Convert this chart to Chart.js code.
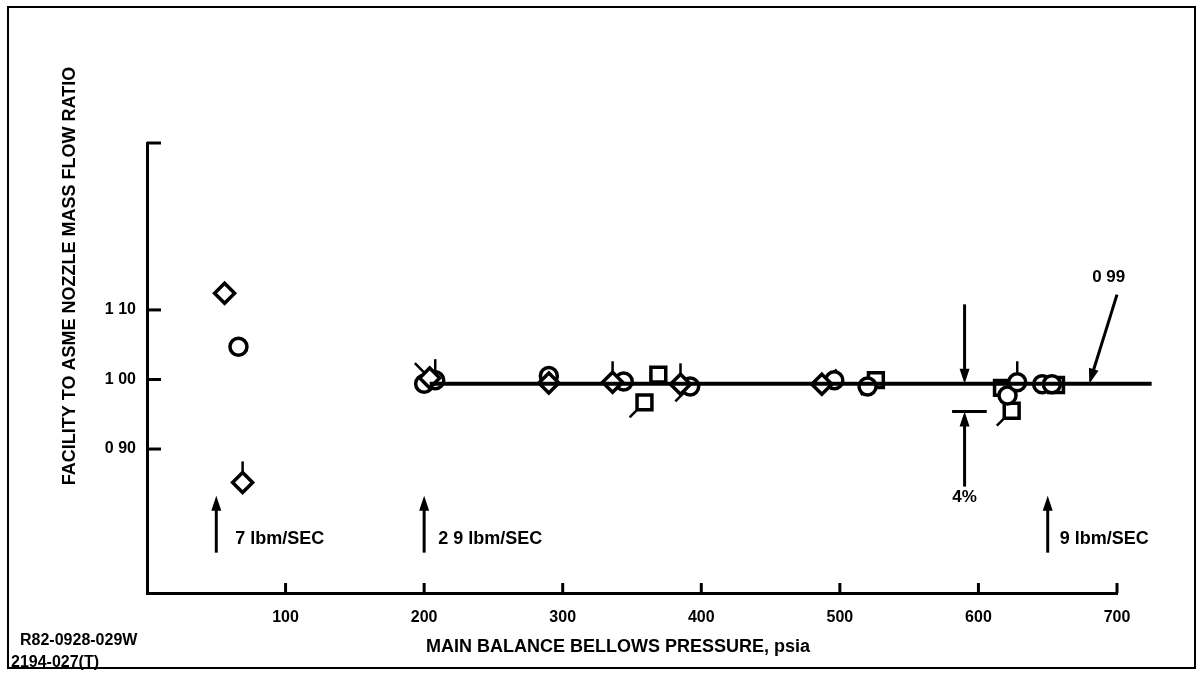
<!DOCTYPE html>
<html>
<head>
<meta charset="utf-8">
<script src="https://cdn.jsdelivr.net/npm/chart.js@4.4.1/dist/chart.umd.min.js"></script>
<style>
  html, body { margin: 0; padding: 0; background: #fff; }
</style>
</head>
<body>
<canvas id="myChart" width="1202" height="675"></canvas>
<script>
// axis ticks
var xTicks = [100, 200, 300, 400, 500, 600, 700];
var yTicks = [0.90, 1.00, 1.10];
var yTickLabels = ['0 90', '1 00', '1 10'];
var yMin = 0.693, yMax = 1.340;

var diamondX = [56, 69, 204, 290, 336, 385, 487];
var diamondY = [1.124, 0.852, 1.002, 0.995, 0.996, 0.993, 0.993];
var circleX = [66, 200, 208, 290, 344, 392, 496, 520, 621, 628, 646, 653];
var circleY = [1.047, 0.994, 0.999, 1.005, 0.997, 0.990, 0.999, 0.990, 0.977, 0.996, 0.993, 0.993];
var squareX = [359, 369, 526, 617, 624, 656];
var squareY = [0.967, 1.007, 0.999, 0.988, 0.955, 0.992];

// little flags hung on some symbols (angle in degrees)
var flagX = [69, 204, 208, 336, 359, 385, 392, 487, 526, 628, 624];
var flagY = [0.852, 1.002, 0.999, 0.996, 0.967, 0.993, 0.990, 0.993, 0.999, 0.996, 0.955];
var flagAngle = [-90, -135, -90, -90, 135, -90, 135, -45, 135, -90, 135];

// mean line 0.99
var fitX = [204, 725];
var fitY = [0.994, 0.994];

// flow rate arrows
var rateX = [50, 200, 650];
var rateLabels = ['7 lbm/SEC', '2 9 lbm/SEC', '9 lbm/SEC'];
var rateGap = [19, 14, 12];

function pts(xs, ys) {
  return xs.map(function (x, i) { return { x: x, y: ys[i] }; });
}

var FONT = '"Liberation Sans", Arial, sans-serif';

function arrow(ctx, x1, y1, x2, y2) {
  var a = Math.atan2(y2 - y1, x2 - x1);
  var hl = 15, hw = 5;
  ctx.beginPath();
  ctx.moveTo(x1, y1);
  ctx.lineTo(x2 - Math.cos(a) * hl * 0.8, y2 - Math.sin(a) * hl * 0.8);
  ctx.stroke();
  ctx.beginPath();
  ctx.moveTo(x2, y2);
  ctx.lineTo(x2 - Math.cos(a) * hl - Math.sin(a) * hw, y2 - Math.sin(a) * hl + Math.cos(a) * hw);
  ctx.lineTo(x2 - Math.cos(a) * hl + Math.sin(a) * hw, y2 - Math.sin(a) * hl - Math.cos(a) * hw);
  ctx.closePath();
  ctx.fill();
}

var paperPlugin = {
  id: 'paper',
  afterDraw: function (chart) {
    var ctx = chart.ctx;
    var xs = chart.scales.x, ys = chart.scales.y;
    ctx.save();
    ctx.strokeStyle = '#000';
    ctx.fillStyle = '#000';

    // frame round the figure
    ctx.lineWidth = 2;
    ctx.strokeRect(8, 7, 1187, 661);

    // inward tick marks
    ctx.lineWidth = 3;
    xs.ticks.forEach(function (t) {
      var p = xs.getPixelForValue(t.value);
      ctx.beginPath(); ctx.moveTo(p, ys.bottom); ctx.lineTo(p, ys.bottom - 10); ctx.stroke();
    });
    ys.ticks.forEach(function (t) {
      var p = ys.getPixelForValue(t.value);
      ctx.beginPath(); ctx.moveTo(xs.left, p); ctx.lineTo(xs.left + 14, p); ctx.stroke();
    });

    // titles
    ctx.font = 'bold 18px ' + FONT;
    ctx.textAlign = 'center';
    ctx.textBaseline = 'middle';
    ctx.fillText('MAIN BALANCE BELLOWS PRESSURE, psia', 618, 647);
    ctx.save();
    ctx.translate(70, 276);
    ctx.rotate(-Math.PI / 2);
    ctx.fillText('FACILITY TO ASME NOZZLE MASS FLOW RATIO', 0, 0);
    ctx.restore();

    ctx.font = 'bold 16px ' + FONT;
    ctx.textAlign = 'left';
    ctx.fillText('R82-0928-029W', 20, 641);
    ctx.fillText('2194-027(T)', 11, 663);

    // flow rate arrows
    ctx.lineWidth = 3;
    ctx.font = 'bold 18px ' + FONT;
    rateX.forEach(function (v, i) {
      var px = xs.getPixelForValue(v);
      arrow(ctx, px, ys.getPixelForValue(0.751), px, ys.getPixelForValue(0.833));
      ctx.fillText(rateLabels[i], px + rateGap[i], ys.getPixelForValue(0.771));
    });

    // 4% band
    var bx = xs.getPixelForValue(590);
    var lineY = ys.getPixelForValue(fitY[0]);
    var lowY = ys.getPixelForValue(0.954);
    arrow(ctx, bx, ys.getPixelForValue(1.108), bx, lineY);
    arrow(ctx, bx, ys.getPixelForValue(0.846), bx, lowY);
    ctx.beginPath();
    ctx.moveTo(xs.getPixelForValue(581), lowY);
    ctx.lineTo(xs.getPixelForValue(606), lowY);
    ctx.stroke();
    ctx.textAlign = 'center';
    ctx.font = 'bold 17px ' + FONT;
    ctx.fillText('4%', bx, ys.getPixelForValue(0.83));

    // 0 99 callout
    arrow(ctx, xs.getPixelForValue(700), ys.getPixelForValue(1.122), xs.getPixelForValue(680), lineY);
    ctx.fillText('0 99', xs.getPixelForValue(694), ys.getPixelForValue(1.147));

    ctx.restore();
  }
};

var markerBase = {
  borderWidth: 3.5,
  borderColor: '#000',
  backgroundColor: '#fff',
  order: 1
};

var ctx = document.getElementById('myChart').getContext('2d');
var myChart = new Chart(ctx, {
  type: 'scatter',
  data: {
    datasets: [
      {
        label: 'fit',
        data: pts(fitX, fitY),
        showLine: true,
        borderColor: '#000',
        borderWidth: 4,
        pointRadius: 0,
        clip: false,
        order: 0
      },
      Object.assign({ label: 'diamond', data: pts(diamondX, diamondY), pointStyle: 'rectRot', pointRadius: 10 }, markerBase),
      Object.assign({ label: 'circle', data: pts(circleX, circleY), pointStyle: 'circle', pointRadius: 8.5 }, markerBase),
      Object.assign({ label: 'square', data: pts(squareX, squareY), pointStyle: 'rect', pointRadius: 10.5 }, markerBase),
      {
        label: 'flag',
        data: pts(flagX, flagY),
        pointStyle: 'dash',
        pointRadius: 21,
        pointRotation: flagAngle,
        borderWidth: 2.5,
        borderColor: '#000',
        order: 2
      }
    ]
  },
  options: {
    responsive: false,
    animation: false,
    events: [],
    layout: { padding: { top: 143, right: 85, left: 0, bottom: 0 } },
    plugins: {
      legend: { display: false },
      tooltip: { enabled: false }
    },
    scales: {
      x: {
        type: 'linear',
        position: 'bottom',
        min: 0,
        max: 700,
        grid: { display: false, drawTicks: false },
        border: { display: true, color: '#000', width: 3 },
        afterBuildTicks: function (s) { s.ticks = xTicks.map(function (v) { return { value: v }; }); },
        afterFit: function (s) { s.height = 82; },
        ticks: {
          color: '#000',
          padding: 15,
          maxRotation: 0,
          font: { family: FONT, size: 16, weight: 'bold' },
          callback: function (v) { return String(v); }
        }
      },
      y: {
        type: 'linear',
        position: 'left',
        min: yMin,
        max: yMax,
        grid: { display: false, drawTicks: false },
        border: { display: true, color: '#000', width: 3 },
        afterBuildTicks: function (s) {
          s.ticks = yTicks.map(function (v) { return { value: v }; }).concat([{ value: yMax }]);
        },
        afterFit: function (s) { s.width = 147; },
        ticks: {
          color: '#000',
          padding: 11,
          font: { family: FONT, size: 16, weight: 'bold' },
          callback: function (v) {
            var i = yTicks.indexOf(v);
            return i < 0 ? '' : yTickLabels[i];
          }
        }
      }
    }
  },
  plugins: [paperPlugin]
});
</script>
</body>
</html>
